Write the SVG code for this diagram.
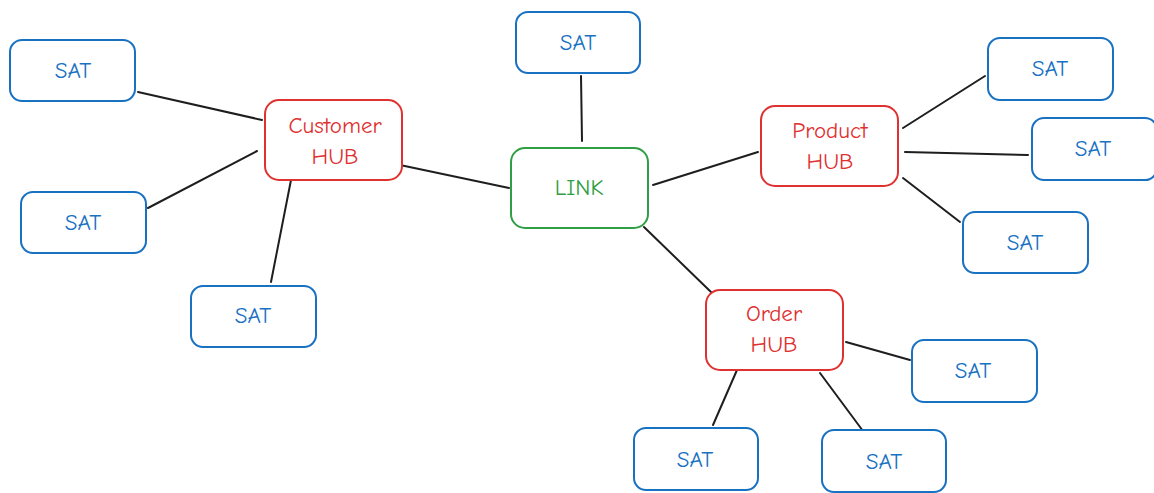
<svg xmlns="http://www.w3.org/2000/svg" width="1154" height="493" viewBox="0 0 1154 493">
<style>
.box{fill:#fff;stroke-width:2;}
.sat{stroke:#1971c2;}
.hub{stroke:#e03131;}
.link{stroke:#2f9e44;}
text{font-family:"Comic Neue","Open Sans","Liberation Sans",sans-serif;font-size:23px;text-anchor:middle;dominant-baseline:central;}
.tsat{fill:#1971c2;}
.thub{fill:#e03131;}
.tlink{fill:#2f9e44;}
.conn line{stroke:#1e1e1e;stroke-width:2;stroke-linecap:round;}
</style>
<rect width="1154" height="493" fill="#fff"/>
<g class="conn" id="connectors">
<line x1="138" y1="92" x2="262" y2="120"/>
<line x1="148" y1="208" x2="257" y2="151"/>
<line x1="271" y1="282" x2="291" y2="180"/>
<line x1="400" y1="165" x2="509" y2="188"/>
<line x1="581" y1="76" x2="582" y2="141"/>
<line x1="653" y1="185" x2="758" y2="152"/>
<line x1="903" y1="128" x2="985" y2="76"/>
<line x1="905" y1="152" x2="1028" y2="155"/>
<line x1="903" y1="178" x2="960" y2="222"/>
<line x1="644" y1="227" x2="711" y2="292"/>
<line x1="846" y1="342" x2="910" y2="360"/>
<line x1="737" y1="370" x2="713" y2="425"/>
<line x1="820" y1="373" x2="863" y2="431"/>
</g>
<g id="sat1"><rect class="box sat" x="10" y="40" width="125" height="61" rx="12"/><text class="tsat" x="73" y="70">SAT</text></g>
<g id="sat2"><rect class="box sat" x="21" y="192" width="125" height="61" rx="12"/><text class="tsat" x="83" y="222">SAT</text></g>
<g id="sat3"><rect class="box sat" x="191" y="286" width="125" height="61" rx="12"/><text class="tsat" x="253" y="315">SAT</text></g>
<g id="sat4"><rect class="box sat" x="516" y="12" width="124" height="61" rx="12"/><text class="tsat" x="578" y="42">SAT</text></g>
<g id="sat5"><rect class="box sat" x="988" y="38" width="125" height="62" rx="12"/><text class="tsat" x="1050" y="68">SAT</text></g>
<g id="sat6"><rect class="box sat" x="1032" y="118" width="125" height="62" rx="12"/><text class="tsat" x="1093" y="148">SAT</text></g>
<g id="sat7"><rect class="box sat" x="963" y="212" width="125" height="61" rx="12"/><text class="tsat" x="1025" y="242">SAT</text></g>
<g id="sat8"><rect class="box sat" x="912" y="340" width="125" height="62" rx="12"/><text class="tsat" x="973" y="370">SAT</text></g>
<g id="sat9"><rect class="box sat" x="634" y="428" width="124" height="62" rx="12"/><text class="tsat" x="695" y="459">SAT</text></g>
<g id="sat10"><rect class="box sat" x="822" y="430" width="124" height="62" rx="12"/><text class="tsat" x="884" y="461">SAT</text></g>
<g id="customer-hub"><rect class="box hub" x="265" y="100" width="137" height="80" rx="14"/><text class="thub" x="335" y="125">Customer</text><text class="thub" x="335" y="156">HUB</text></g>
<g id="link"><rect class="box link" x="511" y="148" width="137" height="80" rx="14"/><text class="tlink" x="579" y="187">LINK</text></g>
<g id="product-hub"><rect class="box hub" x="761" y="106" width="137" height="80" rx="14"/><text class="thub" x="830" y="130">Product</text><text class="thub" x="830" y="161">HUB</text></g>
<g id="order-hub"><rect class="box hub" x="706" y="290" width="137" height="80" rx="14"/><text class="thub" x="774" y="313">Order</text><text class="thub" x="774" y="344">HUB</text></g>
</svg>
